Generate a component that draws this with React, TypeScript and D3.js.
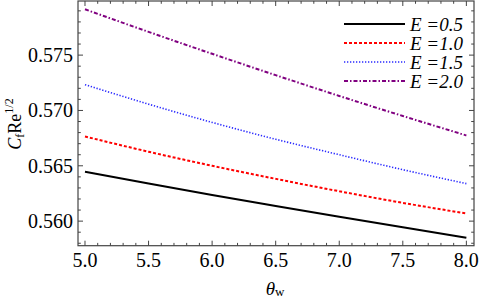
import React from "react";
import * as d3 from "d3";

const thetaW = [5.0, 5.5, 6.0, 6.5, 7.0, 7.5, 8.0];
const cfE05 = [0.56447, 0.5634, 0.56236, 0.56137, 0.5604, 0.55944, 0.5585];
const cfE10 = [0.56765, 0.56627, 0.565, 0.56382, 0.5627, 0.56165, 0.56069];
const cfE15 = [0.57233, 0.57057, 0.56892, 0.5674, 0.566, 0.56465, 0.56339];
const cfE20 = [0.57914, 0.5771, 0.57512, 0.57319, 0.57131, 0.5695, 0.56774];
const seriesLabels = ["0.5", "1.0", "1.5", "2.0"];
const xTickLabels = ["5.0", "5.5", "6.0", "6.5", "7.0", "7.5", "8.0"];
const yTickLabels = ["0.560", "0.565", "0.570", "0.575"];

const W = 480;
const H = 299;
const left = 78;
const right = 474;
const top = 1;
const bottom = 245.7;
const serif = "Liberation Serif";

export default function App() {
  const x = d3.scaleLinear().domain([4.945, 8.06]).range([left, right]);
  const y = d3.scaleLinear().domain([0.55778, 0.57989]).range([bottom, top]);

  const series = [
    { vals: cfE05, color: "#000000", width: 2, dash: "" },
    { vals: cfE10, color: "#ff0000", width: 2, dash: "3,2" },
    { vals: cfE15, color: "#2a2aff", width: 1.6, dash: "1.3,1.7" },
    { vals: cfE20, color: "#800080", width: 2, dash: "4,2,1.5,2" },
  ];

  const line = d3
    .line<number>()
    .x((_, i) => x(thetaW[i]))
    .y((d) => y(d))
    .curve(d3.curveMonotoneX);

  const xMinor = d3.range(50, 81).map((v) => v / 10);
  const yMinor = d3.range(558, 580).map((v) => v / 1000);
  const xMajor = xTickLabels.map(Number);
  const yMajor = yTickLabels.map(Number);
  const frame = "#444";
  const ts = { fontFamily: serif };

  return (
    <svg
      width={W}
      height={H}
      style={{ position: "absolute", left: 0, top: 0, background: "#fff", fontFamily: serif }}
    >
      <rect x={0} y={0} width={W} height={H} fill="#fff" />
      {series.map((s, k) => (
        <path
          key={k}
          d={line(s.vals) || ""}
          fill="none"
          stroke={s.color}
          strokeWidth={s.width}
          strokeDasharray={s.dash || undefined}
        />
      ))}
      <rect x={left} y={top} width={right - left} height={bottom - top} fill="none" stroke={frame} strokeWidth={1.2} />
      {xMinor.map((v, i) => {
        const major = xMajor.some((m) => Math.abs(m - v) < 1e-6);
        const len = major ? 5 : 2.8;
        return (
          <g key={"xm" + i} stroke={frame} strokeWidth={1}>
            <line x1={x(v)} x2={x(v)} y1={bottom} y2={bottom - len} />
            <line x1={x(v)} x2={x(v)} y1={top} y2={top + len} />
          </g>
        );
      })}
      {yMinor.map((v, i) => {
        const major = yMajor.some((m) => Math.abs(m - v) < 1e-7);
        const len = major ? 5 : 2.8;
        return (
          <g key={"ym" + i} stroke={frame} strokeWidth={1}>
            <line x1={left} x2={left + len} y1={y(v)} y2={y(v)} />
            <line x1={right} x2={right - len} y1={y(v)} y2={y(v)} />
          </g>
        );
      })}
      {xTickLabels.map((t, i) => (
        <text key={"xt" + i} x={x(xMajor[i])} y={267} fontSize={20} textAnchor="middle" fill="#000" style={ts}>
          {t}
        </text>
      ))}
      {yTickLabels.map((t, i) => (
        <text key={"yt" + i} x={73} y={y(yMajor[i])} dy="0.35em" fontSize={20} textAnchor="end" fill="#000" style={ts}>
          {t}
        </text>
      ))}
      <text x={275} y={295} fontSize={19} textAnchor="middle" fill="#000" style={ts}>
        <tspan fontStyle="italic">θ</tspan>
        <tspan fontSize={13} dy={1}>w</tspan>
      </text>
      <text transform="translate(21,124) rotate(-90)" fontSize={18} textAnchor="middle" fill="#000" style={ts}>
        <tspan fontStyle="italic">C</tspan>
        <tspan fontSize={12} dy={3}>f</tspan>
        <tspan dy={-3}>Re</tspan>
        <tspan fontSize={12} dy={-8}>1/2</tspan>
      </text>
      {series.map((s, k) => {
        const ly = 24 + k * 19;
        return (
          <g key={"lg" + k}>
            <line
              x1={344}
              x2={405}
              y1={ly}
              y2={ly}
              stroke={s.color}
              strokeWidth={s.width}
              strokeDasharray={s.dash || undefined}
            />
            <text x={410} y={ly} dy="0.35em" fontSize={19} fontStyle="italic" fill="#000" style={ts}>
              {"E =" + seriesLabels[k]}
            </text>
          </g>
        );
      })}
    </svg>
  );
}
